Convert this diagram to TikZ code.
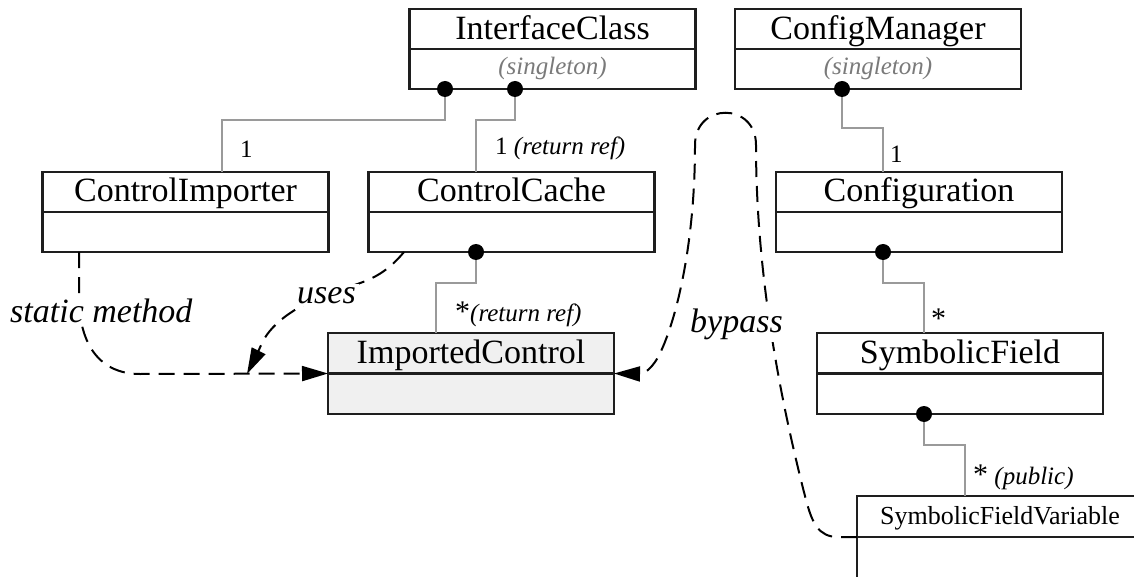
\documentclass[tikz,border=0pt]{standalone}
\usepackage{fontspec}
\setmainfont{Liberation Serif}
\usetikzlibrary{arrows.meta,calc}
\definecolor{boxline}{HTML}{1E1E1E}
\definecolor{assocgray}{HTML}{9A9A9A}
\definecolor{notegray}{HTML}{7A7A7A}
\definecolor{shade}{HTML}{F0F0F0}

\begin{document}
\begin{tikzpicture}[x=1pt,y=-1pt,
  classbox/.style={draw=boxline,line width=2.2pt,minimum width=286pt,minimum height=80pt,inner sep=0pt,outer sep=0pt},
  divider/.style={draw=boxline,line width=2.2pt},
  classname/.style={anchor=base,font=\fontsize{34}{40}\selectfont,inner sep=0pt},
  stereo/.style={anchor=base,font=\fontsize{25}{30}\selectfont\itshape,text=notegray,inner sep=0pt},
  hub/.style={circle,fill=black,minimum size=16pt,inner sep=0pt},
  assoc/.style={draw=assocgray,line width=1.3pt},
  dep/.style={draw=black,line width=2pt,dash pattern=on 16pt off 9pt},
  headed/.style={-{Triangle[length=26pt,width=15pt]}},
  mult/.style={anchor=base west,font=\fontsize{25}{30}\selectfont,inner sep=0pt},
  deplabel/.style={anchor=base west,font=\fontsize{34}{40}\selectfont\itshape,fill=white,inner sep=3pt},
]
\fill[white] (0,0) rectangle (1134,577);
\useasboundingbox (0,0) rectangle (1134,577);

% class boxes: name compartment above, body compartment below
\node[classbox] (ifc) at (552.5,49) {};
\node[classbox] (cfm) at (878,49) {};
\node[classbox] (ci) at (185.5,212) {};
\node[classbox] (cc) at (511.5,212) {};
\node[classbox] (cfg) at (919,212) {};
\node[classbox,fill=shade,minimum height=81pt] (ic) at (471,373.5) {};
\node[classbox,minimum height=81pt] (sf) at (960,373.5) {};
\node[classbox,minimum height=82pt] (sfv) at (1000,537) {};
\foreach \b in {ifc,cfm,ci,cc,cfg,ic,sf,sfv}
  \draw[divider] (\b.west) -- (\b.east);

% class names
\node[classname] (ifcName) at (552.5,40) {InterfaceClass};
\node[classname] (cfmName) at (878,40) {ConfigManager};
\node[stereo] (ifcStereo) at (552.5,75) {(singleton)};
\node[stereo] (cfmStereo) at (878,75) {(singleton)};
\node[classname] (ciName) at (185.5,202) {ControlImporter};
\node[classname] (ccName) at (511.5,202) {ControlCache};
\node[classname] (cfgName) at (919,202) {Configuration};
\node[classname] (icName) at (471,363) {ImportedControl};
\node[classname] (sfName) at (960,363) {SymbolicField};
\node[classname,font=\fontsize{26}{30}\selectfont] (sfvName) at (1000,524) {SymbolicFieldVariable};

% ends of the composition links
\coordinate (pA) at (445,89);
\coordinate (pB) at (515,89);
\coordinate (pC) at (842,89);
\coordinate (pD) at (476,252);
\coordinate (pE) at (883,252);
\coordinate (pF) at (924,414);
\coordinate (ciIn) at (222,172);
\coordinate (ccIn) at (476,172);
\coordinate (cfgIn) at (883,172);
\coordinate (icIn) at (436,333);
\coordinate (sfIn) at (924,333);
\coordinate (sfvIn) at (965,496);

\draw[assoc] (pA) -- ++(0,31) -| (ciIn);
\draw[assoc] (pB) -- ++(0,31) -| (ccIn);
\draw[assoc] (pC) -- ++(0,39) -| (cfgIn);
\draw[assoc] (pD) -- ++(0,31) -| (icIn);
\draw[assoc] (pE) -- ++(0,31) -| (sfIn);
\draw[assoc] (pF) -- ++(0,31) -| (sfvIn);

\node[hub] (hubA) at (pA) {};
\node[hub] (hubB) at (pB) {};
\node[hub] (hubC) at (pC) {};
\node[hub] (hubD) at (pD) {};
\node[hub] (hubE) at (pE) {};
\node[hub] (hubF) at (pF) {};

% multiplicities
\node[mult] (m1) at (240,158) {1};
\node[mult] (m2) at (495,155) {1 \textit{(return ref)}};
\node[mult] (m3) at (890,163) {1};
\node[mult] (m4) at (455,321) {{\fontsize{30}{30}\selectfont *}\textit{(return ref)}};
\node[mult,font=\fontsize{30}{30}\selectfont] (m5) at (931,328) {*};
\node[mult] (m6) at (973,484) {{\fontsize{30}{30}\selectfont *} \textit{(public)}};

% dependencies
\coordinate (ciOut) at (79,252);
\coordinate (ccOut) at (404,252);
\coordinate (usesTip) at (247,374);

\draw[dep,headed] (ciOut) -- (79,300) .. controls (80,345) and (100,374) .. (140,374) -- (ic.west);
\draw[dep,headed] (ccOut) .. controls (385,275) and (368,281) .. (345,288)
  .. controls (300,302) and (272,322) .. (262,343)
  .. controls (258,352) and (255,358) .. (usesTip);
\draw[dep,headed] (sfv.west) -- (838,537) .. controls (818,537) and (812,522) .. (806,500)
  .. controls (775,380) and (756,260) .. (756,145)
  .. controls (756,102) and (695,102) .. (695,145)
  .. controls (695,260) and (670,340) .. (655,362)
  .. controls (648,372) and (642,374) .. (ic.east);

\node[deplabel] (lblStatic) at (7,322) {static method};
\node[deplabel] (lblUses) at (294,303) {uses};
\node[deplabel] (lblBypass) at (687,332) {bypass};
\end{tikzpicture}
\end{document}
